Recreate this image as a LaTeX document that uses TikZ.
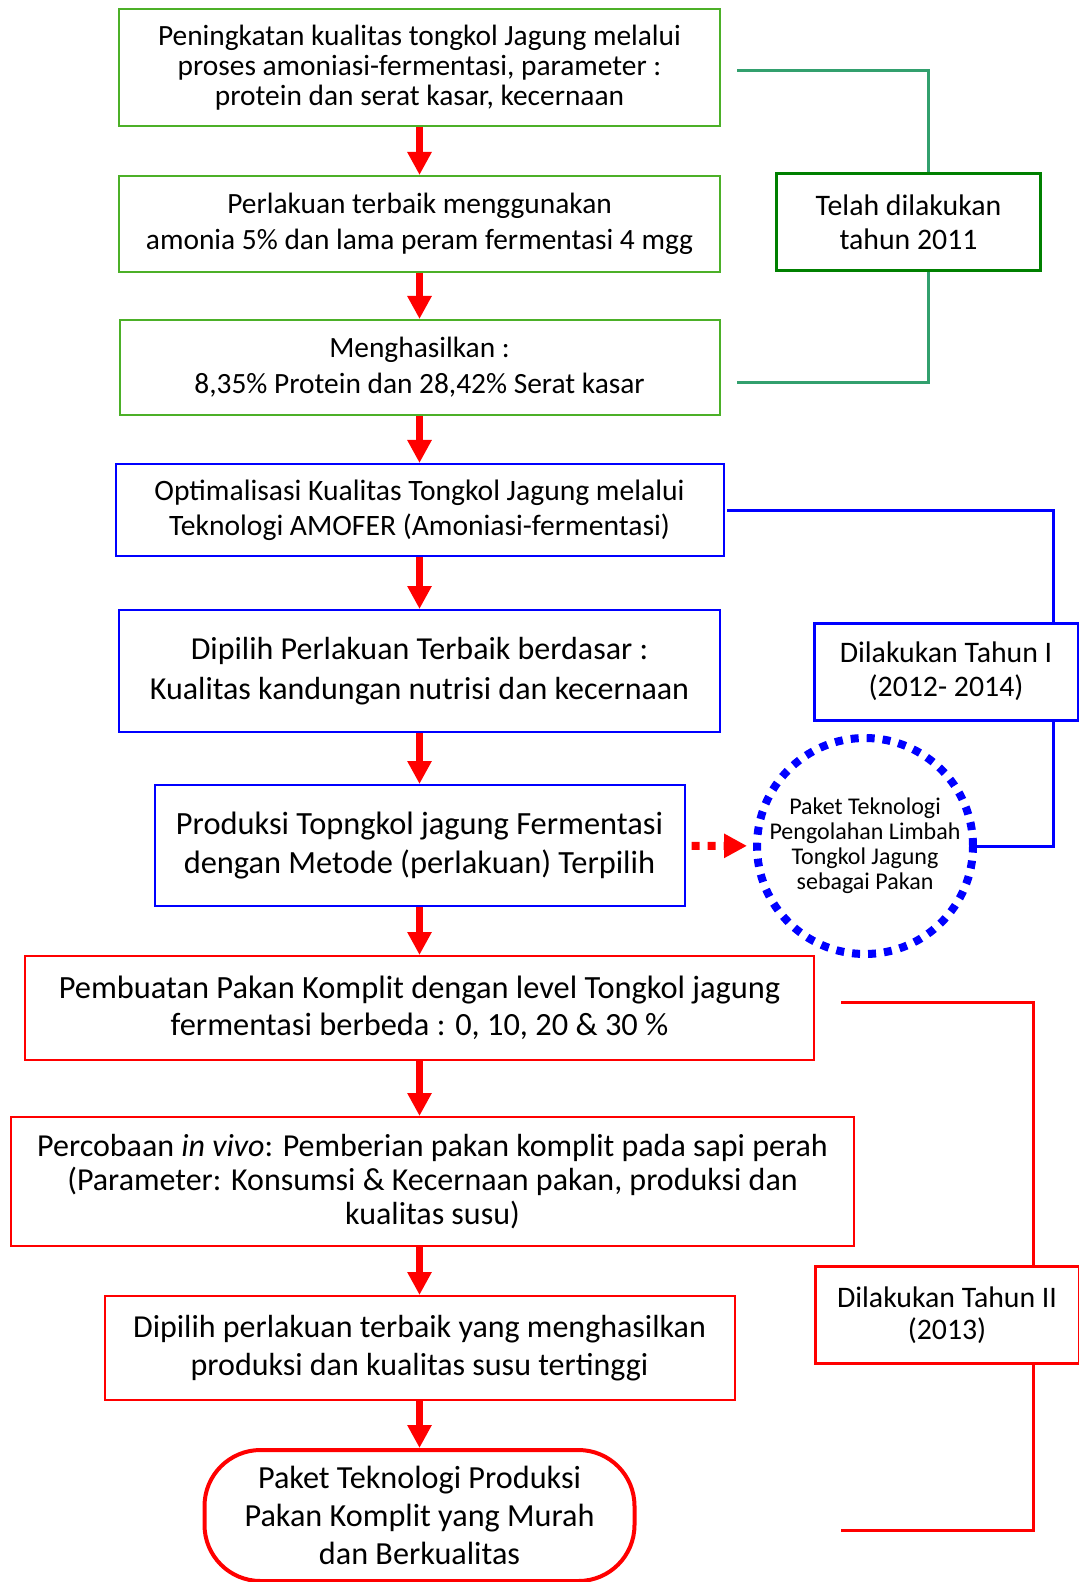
\documentclass[tikz,border=0pt]{standalone}
\usepackage{fontspec}
\setmainfont{Carlito}
\usepackage{xcolor}
\usetikzlibrary{shapes,arrows.meta,positioning}

\definecolor{boxgreen}{RGB}{76,176,40}
\definecolor{labgreen}{RGB}{0,128,0}
\definecolor{linegreen}{RGB}{50,160,110}
\newcommand{\boxfont}[2]{\fontsize{#1}{#2}\selectfont}

\begin{document}
\begin{tikzpicture}[x=0.5pt, y=-0.5pt, auto]
        \tikzstyle{block} = [rectangle, draw, line width=1pt, align=center, inner sep=2pt]
        \tikzstyle{gblock} = [block, draw=boxgreen]
        \tikzstyle{bblock} = [block, draw=blue]
        \tikzstyle{rblock} = [block, draw=red]
        \tikzstyle{period} = [rectangle, draw, line width=1.5pt, align=center, minimum width=132pt, minimum height=48.5pt, font=\boxfont{14.9}{17}]
        \tikzstyle{line} = [draw=red, line width=3.2pt, -{Triangle[length=11.5pt,width=11.5pt]}]
        \tikzstyle{bracket} = [line width=1.5pt]

    \useasboundingbox (0,0) rectangle (1079,1582);

    \node [gblock, minimum width=300.5pt, minimum height=58.5pt, font=\boxfont{14.7}{15}] (quality) at (419.5,67.5) {Peningkatan kualitas tongkol Jagung melalui\\proses amoniasi-fermentasi, parameter :\\protein dan serat kasar, kecernaan};
    \node [gblock, below of=quality, node distance=78.25pt, minimum width=300.5pt, minimum height=48pt, font=\boxfont{14.7}{18}] (treatment) {Perlakuan terbaik menggunakan\\amonia 5\% dan lama peram fermentasi 4 mgg};
    \node [gblock, below of=treatment, node distance=71.75pt, minimum width=300pt, minimum height=47.5pt, font=\boxfont{14.7}{18}] (result) {Menghasilkan :\\8,35\% Protein dan 28,42\% Serat kasar};
    \node [bblock, below of=result, node distance=71.25pt, minimum width=304pt, minimum height=46pt, font=\boxfont{14.8}{17.5}] (optimise) {Optimalisasi Kualitas Tongkol Jagung melalui\\Teknologi AMOFER (Amoniasi-fermentasi)};
    \node [bblock, below of=optimise, node distance=80.5pt, minimum width=300.5pt, minimum height=61pt, font=\boxfont{16}{20}] (chosen) {Dipilih Perlakuan Terbaik berdasar :\\Kualitas kandungan nutrisi dan kecernaan};
    \node [bblock, below of=chosen, node distance=87.25pt, minimum width=265pt, minimum height=60.5pt, font=\boxfont{16.2}{19.5}] (production) {Produksi Topngkol jagung Fermentasi\\dengan Metode (perlakuan) Terpilih};

    \path [line] (quality) -- (treatment);
    \path [line] (treatment) -- (result);
    \path [line] (result) -- (optimise);
    \path [line] (optimise) -- (chosen);
    \path [line] (chosen) -- (production);

    \node [rblock, below of=production, node distance=81.25pt, minimum width=394.5pt, minimum height=52pt, font=\boxfont{16.2}{18.5}] (ration) {Pembuatan Pakan Komplit dengan level Tongkol jagung\\fermentasi berbeda : 0, 10, 20 \& 30 \%};
    \node [rblock, below of=ration, node distance=86.75pt, xshift=6.5pt, minimum width=421.5pt, minimum height=64.5pt, font=\boxfont{16}{17}] (invivo) {Percobaan \textit{in vivo}: Pemberian pakan komplit pada sapi perah\\(Parameter: Konsumsi \& Kecernaan pakan, produksi dan\\kualitas susu)};
    \node [rblock, below of=invivo, node distance=83.25pt, xshift=-6.5pt, minimum width=315pt, minimum height=52pt, font=\boxfont{16}{19}] (selected) {Dipilih perlakuan terbaik yang menghasilkan\\produksi dan kualitas susu tertinggi};
    \node [rblock, below of=selected, node distance=83.75pt, line width=2pt, rounded corners=28pt, minimum width=215pt, minimum height=65.5pt, font=\boxfont{16.1}{19}] (package) {Paket Teknologi Produksi\\Pakan Komplit yang Murah\\dan Berkualitas};

    \path [line] (production) -- (ration);
    \path [line] (ration) -- (invivo.north -| ration);
    \path [line] (invivo.south -| selected) -- (selected);
    \path [line] (selected) -- (package);

    % side notes
    \node [circle, draw=blue, line width=4pt, dash pattern=on 4pt off 4pt, minimum size=108pt, inner sep=0pt, align=center, font=\boxfont{12}{12.5}] (wastepack) at (865,846) {Paket Teknologi\\Pengolahan Limbah\\Tongkol Jagung\\sebagai Pakan};
    \path [line, line width=4pt, dash pattern=on 4pt off 4pt, shorten <=3pt, shorten >=3pt] (production) -- (wastepack);

    \node [period, draw=labgreen] (year0) at (908.5,222.5) {Telah dilakukan\\tahun 2011};
    \node [period, draw=blue] (year1) at (946,671.5) {Dilakukan Tahun I\\(2012- 2014)};
    \node [period, draw=red, font=\boxfont{14.9}{16}] (year2) at (947,1315) {Dilakukan Tahun II\\(2013)};

    \coordinate (gtop) at (737,71);
    \coordinate (gbot) at (737,383);
    \coordinate (gx) at (928,0);
    \draw [bracket, linegreen] (gtop) -| (gx |- year0.north) (gx |- year0.south) |- (gbot);

    \coordinate (btop) at (727,511);
    \coordinate (bx) at (1053,0);
    \draw [bracket, blue] (btop) -| (bx |- year1.north) (bx |- year1.south) |- (wastepack.east);

    \coordinate (rtop) at (841,1002);
    \coordinate (rbot) at (841,1530);
    \coordinate (rx) at (1033,0);
    \draw [bracket, red] (rtop) -| (rx |- year2.north) (rx |- year2.south) |- (rbot);
    \end{tikzpicture}
\end{document}
